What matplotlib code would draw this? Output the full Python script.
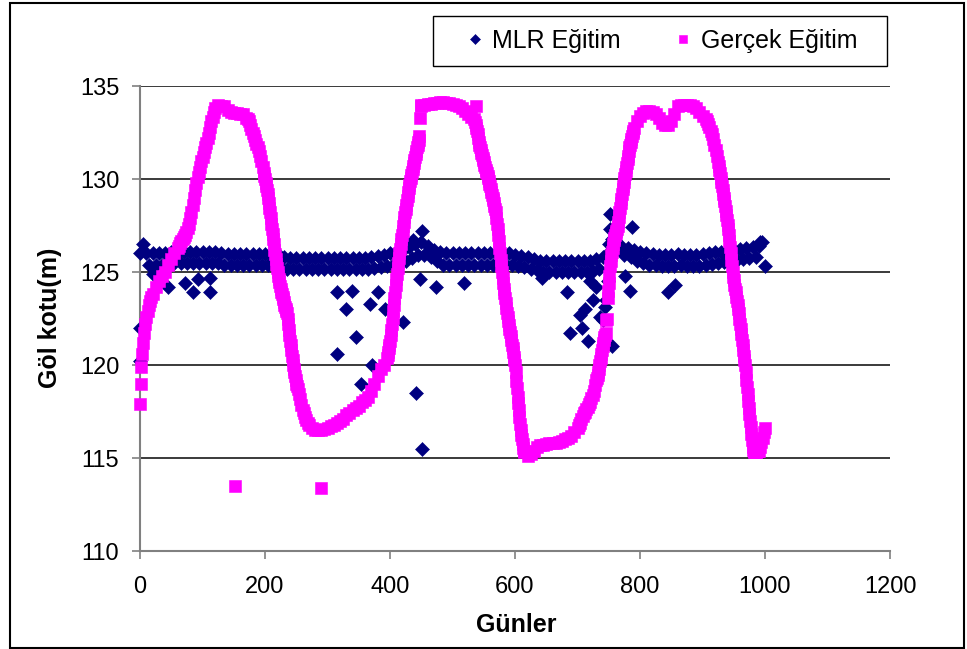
import numpy as np
import matplotlib
matplotlib.use("Agg")
import matplotlib.pyplot as plt
from matplotlib.lines import Line2D
from matplotlib.patches import Rectangle

plt.rcParams['font.family'] = ['Liberation Sans', 'DejaVu Sans']

# ---------------- data ----------------
# "Gerçek Eğitim" (observed) lake level, read off the chart in pieces:
# each piece = (first day, day step, values)
ger_0_3 = [117.9, 119.0, 119.9, 120.6]
ger_4_20 = [121.2, 121.7, 122.2, 122.6, 122.9, 123.2, 123.45, 123.65, 123.8]
ger_25_60 = [124.2, 124.5, 124.8, 125.0, 125.4, 125.7, 126.0, 126.3]
ger_62_120 = [126.4, 126.55, 126.65, 126.8, 126.9, 127.0, 127.15, 127.35, 127.6, 127.9,
              128.25, 128.6, 129.0, 129.4, 129.8, 130.1, 130.4, 130.65, 130.95, 131.2,
              131.45, 131.7, 131.95, 132.2, 132.5, 132.8, 133.1, 133.35, 133.6, 133.8]
ger_125_170 = [134.0, 133.95, 133.9, 133.7, 133.6, 133.55, 133.55, 133.5, 133.5, 133.3]
ger_172_198 = [133.2, 133.1, 132.9, 132.7, 132.5, 132.3, 132.1, 131.9, 131.7, 131.5,
               131.25, 130.95, 130.65, 130.3]
ger_199_252 = [130.15, 130.0, 129.8, 129.6, 129.4, 129.2, 129.0, 128.7, 128.45, 128.2,
               127.9, 127.6, 127.3, 127.05, 126.75, 126.5, 126.2, 125.95, 125.7, 125.45,
               125.2, 125.0, 124.8, 124.6, 124.45, 124.25, 124.1, 123.95, 123.8, 123.65,
               123.55, 123.4, 123.25, 123.1, 123.0, 122.9, 122.8, 122.5, 122.2, 121.9,
               121.6, 121.3, 121.05, 120.8, 120.5, 120.25, 120.0, 119.8, 119.6, 119.4,
               119.2, 119.0, 118.85, 118.7]
ger_254_270 = [118.45, 118.15, 117.85, 117.6, 117.4, 117.2, 117.05, 116.9, 116.8]
ger_275_395 = [116.6, 116.5, 116.5, 116.5, 116.55, 116.6, 116.7, 116.8, 116.9, 117.0,
               117.1, 117.3, 117.4, 117.6, 117.7, 117.8, 118.0, 118.1, 118.3, 118.6,
               119.0, 119.4, 119.8, 120.0, 120.4]
ger_396_450 = [120.55, 120.7, 120.9, 121.1, 121.3, 121.6, 121.9, 122.2, 122.55, 122.9,
               123.25, 123.6, 123.95, 124.3, 124.6, 124.9, 125.2, 125.5, 125.75, 126.0,
               126.25, 126.5, 126.75, 127.0, 127.2, 127.45, 127.7, 127.95, 128.2, 128.4,
               128.6, 128.85, 129.1, 129.3, 129.5, 129.7, 129.9, 130.05, 130.2, 130.4,
               130.55, 130.7, 130.85, 131.0, 131.2, 131.35, 131.5, 131.7, 131.85, 132.0,
               132.1, 132.3, 133.3, 133.9, 134.0]
ger_455_535 = [134.0, 134.05, 134.05, 134.1, 134.1, 134.15, 134.15, 134.1, 134.1, 134.05,
               134.0, 133.9, 133.8, 133.65, 133.5, 133.35, 133.2]
ger_536_615 = [133.05, 132.9, 132.75, 132.6, 132.4, 132.2, 132.0, 131.85, 131.7, 131.55,
               131.4, 131.3, 131.15, 131.0, 130.9, 130.75, 130.65, 130.5, 130.4, 130.3,
               130.15, 130.05, 129.9, 129.75, 129.6, 129.45, 129.3, 129.15, 129.0, 128.85,
               128.7, 128.55, 128.4, 128.2, 127.9, 127.6, 127.3, 127.0, 126.65, 126.3,
               126.0, 125.65, 125.3, 125.0, 124.7, 124.4, 124.1, 123.85, 123.6, 123.35,
               123.05, 122.8, 122.6, 122.35, 122.15, 121.95, 121.75, 121.55, 121.35, 121.1,
               120.9, 120.7, 120.45, 120.25, 120.0, 119.6, 119.15, 118.75, 118.3, 117.95,
               117.6, 117.2, 116.85, 116.5, 116.25, 116.0, 115.75, 115.55, 115.4, 115.3]
ger_620_700 = [115.1, 115.2, 115.4, 115.6, 115.7, 115.7, 115.75, 115.8, 115.8, 115.8,
               115.85, 115.9, 116.0, 116.1, 116.2, 116.4, 116.6]
ger_702_730 = [116.75, 116.9, 117.1, 117.25, 117.4, 117.5, 117.65, 117.75, 117.9, 118.0,
               118.2, 118.4, 118.6, 118.9, 119.2]
ger_731_790 = [119.3, 119.45, 119.6, 119.8, 120.0, 120.2, 120.4, 120.6, 120.8, 121.0,
               121.2, 121.35, 121.5, 121.6, 121.7, 122.4, 122.5, 123.6, 124.0, 124.4,
               124.8, 125.3, 125.6, 125.9, 126.1, 126.3, 126.5, 126.7, 126.85, 127.0,
               127.1, 127.2, 127.3, 127.45, 127.7, 127.95, 128.2, 128.45, 128.7, 128.95,
               129.2, 129.45, 129.65, 129.85, 130.05, 130.25, 130.45, 130.65, 130.85, 131.05,
               131.25, 131.5, 131.7, 131.85, 132.0, 132.15, 132.3, 132.45, 132.6, 132.75]
ger_795_905 = [133.1, 133.4, 133.55, 133.65, 133.65, 133.6, 133.5, 133.3, 133.0, 132.9,
               132.9, 133.1, 133.5, 133.9, 134.0, 134.0, 134.0, 134.0, 133.9, 133.8,
               133.6, 133.4, 133.2]
ger_907_925 = [133.1, 132.95, 132.8, 132.6, 132.4, 132.15, 131.85, 131.55, 131.25, 130.9]
ger_926_990 = [130.7, 130.5, 130.3, 130.05, 129.85, 129.65, 129.4, 129.2, 129.0, 128.8,
               128.55, 128.3, 128.05, 127.8, 127.55, 127.3, 127.0, 126.65, 126.35, 126.0,
               125.65, 125.3, 125.0, 124.75, 124.55, 124.3, 124.1, 123.9, 123.65, 123.45,
               123.2, 123.0, 122.8, 122.5, 122.2, 121.95, 121.65, 121.35, 121.1, 120.8,
               120.5, 120.25, 120.0, 119.6, 119.2, 118.8, 118.45, 118.05, 117.7, 117.35,
               117.0, 116.65, 116.3, 115.95, 115.6, 115.45, 115.35, 115.3, 115.3, 115.3,
               115.3, 115.35, 115.35, 115.4, 115.4]
ger_992_1000 = [115.6, 115.85, 116.1, 116.4, 116.6]
ger_outlier_days = [152, 289, 538]
ger_outlier_vals = [113.5, 113.4, 133.9]

gercek_pieces = [
    (0, 1, ger_0_3), (4, 2, ger_4_20), (25, 5, ger_25_60), (62, 2, ger_62_120),
    (125, 5, ger_125_170), (172, 2, ger_172_198), (199, 1, ger_199_252),
    (254, 2, ger_254_270), (275, 5, ger_275_395), (396, 1, ger_396_450),
    (455, 5, ger_455_535), (536, 1, ger_536_615), (620, 5, ger_620_700),
    (702, 2, ger_702_730), (731, 1, ger_731_790), (795, 5, ger_795_905),
    (907, 2, ger_907_925), (926, 1, ger_926_990), (992, 2, ger_992_1000),
]

# "MLR Eğitim" (model) lake level, every 5 days
mlr_days = np.arange(0, 1001, 5)
mlr_egitim = [
    126.0, 126.5, 126.0, 125.4, 126.0, 125.4, 126.0, 125.4, 126.0, 125.4,        # 0-45
    126.1, 125.5, 126.1, 125.5, 126.1, 125.5, 126.1, 125.5, 126.1, 125.5,        # 50-95
    126.1, 125.5, 126.1, 125.5, 126.1, 125.5, 126.0, 125.35, 125.95, 125.35,     # 100-145
    125.95, 125.35, 125.95, 125.35, 125.95, 125.35, 125.95, 125.35, 125.95, 125.35,  # 150-195
    125.95, 125.35, 125.95, 125.35, 125.95, 125.2, 125.8, 125.15, 125.75, 125.15,    # 200-245
    125.75, 125.15, 125.75, 125.15, 125.75, 125.15, 125.75, 125.15, 125.75, 125.15,  # 250-295
    125.75, 125.15, 125.75, 125.15, 125.75, 125.15, 125.75, 125.15, 125.75, 125.15,  # 300-345
    125.75, 125.15, 125.75, 125.15, 125.8, 125.2, 125.85, 125.25, 125.9, 125.3,      # 350-395
    126.0, 125.4, 126.1, 125.5, 126.2, 125.6, 126.35, 125.75, 126.5, 125.9,          # 400-445
    126.6, 125.9, 126.4, 125.8, 126.2, 125.6, 126.1, 125.4, 126.0, 125.4,            # 450-495
    126.0, 125.4, 126.0, 125.4, 126.0, 125.4, 126.0, 125.4, 126.0, 125.4,            # 500-545
    126.0, 125.4, 126.0, 125.4, 126.0, 125.4, 126.0, 125.4, 126.0, 125.4,            # 550-595
    125.9, 125.3, 125.85, 125.25, 125.8, 125.15, 125.7, 125.1, 125.6, 125.0,         # 600-645
    125.6, 125.0, 125.6, 125.0, 125.6, 125.0, 125.6, 125.0, 125.6, 125.0,            # 650-695
    125.6, 125.0, 125.6, 125.0, 125.6, 125.05, 125.7, 125.15, 125.8, 125.9,          # 700-745
    126.5, 126.8, 126.5, 126.3, 126.4, 125.9, 126.3, 125.8, 126.2, 125.6,            # 750-795
    126.1, 125.5, 126.0, 125.4, 125.95, 125.35, 125.9, 125.3, 125.9, 125.3,          # 800-845
    125.9, 125.3, 125.95, 125.35, 125.9, 125.3, 125.9, 125.3, 125.9, 125.3,          # 850-895
    125.95, 125.4, 126.0, 125.45, 126.05, 125.5, 126.1, 125.55, 126.15, 125.6,       # 900-945
    126.2, 125.65, 126.25, 125.7, 126.3, 125.75, 126.35, 125.8, 126.4, 126.6,        # 950-995
    125.3,                                                                           # 1000
]
mlr_extra_days = [0, 0, 21, 45, 72, 85, 93, 112, 112,
                  315, 330, 339, 346, 315, 368, 371, 353, 381, 392, 421,
                  442, 451, 448, 474, 518, 451, 437,
                  643, 683, 712, 688, 717, 736, 707, 704, 725, 730, 720, 745, 748,
                  744, 784, 845, 856, 776, 741, 755, 752, 787, 752, 992]
mlr_extra_vals = [122.0, 120.2, 124.9, 124.2, 124.4, 123.9, 124.6, 123.9, 124.7,
                  123.9, 123.0, 124.0, 121.5, 120.6, 123.3, 120.0, 119.0, 123.9, 123.0, 122.3,
                  118.5, 115.5, 124.6, 124.2, 124.4, 127.2, 126.7,
                  124.7, 123.9, 123.0, 121.7, 121.3, 122.6, 122.0, 122.7, 123.5, 124.2, 124.5, 123.5, 124.5,
                  123.1, 124.0, 123.9, 124.3, 124.8, 122.4, 121.0, 128.1, 127.4, 127.3, 126.6]

x_ticks = [0, 200, 400, 600, 800, 1000, 1200]
y_ticks = [110, 115, 120, 125, 130, 135]
series_labels = ["MLR Eğitim", "Gerçek Eğitim"]
x_title = "Günler"
y_title = "Göl kotu(m)"

NAVY = "#000080"
PINK = "#FF00FF"

# ---------------- assemble ----------------
ger_x, ger_y = [], []
for start, step, vals in gercek_pieces:
    ger_x.extend(start + step * np.arange(len(vals)))
    ger_y.extend(vals)
ger_x.extend(ger_outlier_days)
ger_y.extend(ger_outlier_vals)

mlr_x = np.concatenate([mlr_days, mlr_extra_days])
mlr_y = np.concatenate([mlr_egitim, mlr_extra_vals])

# ---------------- figure ----------------
W, H = 967, 649
fig = plt.figure(figsize=(W / 100, H / 100), dpi=100)
ax = fig.add_axes([140 / W, 1 - 551 / H, 750 / W, 465 / H])

ax.plot(mlr_x, mlr_y, ls='none', marker='D', ms=7.0, mfc=NAVY, mec=NAVY,
        mew=0.4, clip_on=False, zorder=3)
ax.plot(ger_x, ger_y, ls='none', marker='s', ms=8.0, mfc=PINK, mec=PINK,
        mew=0.4, clip_on=False, zorder=4)

ax.set_xlim(0, 1200)
ax.set_ylim(110, 135)
ax.set_xticks(x_ticks)
ax.set_yticks(y_ticks)
ax.tick_params(axis='both', direction='out', length=6, width=1.2,
               color='#808080', labelsize=17, labelcolor='black')
ax.tick_params(axis='x', pad=12)
ax.tick_params(axis='y', pad=9)

ax.set_axisbelow(True)
ax.yaxis.grid(True, color='#2b2b2b', lw=1.3)
ax.xaxis.grid(False)

for s in ['top', 'right']:
    ax.spines[s].set_visible(False)
for s in ['left', 'bottom']:
    ax.spines[s].set_color('#808080')
    ax.spines[s].set_linewidth(1.5)

ax.set_xlabel(x_title, fontsize=18, fontweight='bold')
ax.set_ylabel(y_title, fontsize=18, fontweight='bold')
ax.xaxis.set_label_coords((516 - 140) / 750, (551 - 625) / 465)
ax.xaxis.label.set_va('center')
ax.yaxis.set_label_coords((50 - 140) / 750, (551 - 318) / 465)
ax.yaxis.label.set_va('center')

# legend
handles = [
    Line2D([], [], ls='none', marker='D', ms=5.4, mfc=NAVY, mec=NAVY, mew=0.4),
    Line2D([], [], ls='none', marker='s', ms=6.2, mfc=PINK, mec=PINK, mew=0.4),
]
fig.legend(handles, series_labels, loc='center',
           bbox_to_anchor=(661 / W, 1 - 41 / H), ncol=2, frameon=False,
           fontsize=18, handlelength=0.8, handletextpad=0.3,
           columnspacing=2.1)
fig.patches.append(Rectangle((433 / W, 1 - 66 / H), 454 / W, 50 / H,
                             transform=fig.transFigure, fill=False,
                             ec='black', lw=1.0))

# outer chart border
fig.patches.append(Rectangle((10 / W, 1 - 648 / H), 954 / W, 645 / H,
                             transform=fig.transFigure, fill=False,
                             ec='black', lw=1.5))

fig.savefig("out.png", dpi=100)
